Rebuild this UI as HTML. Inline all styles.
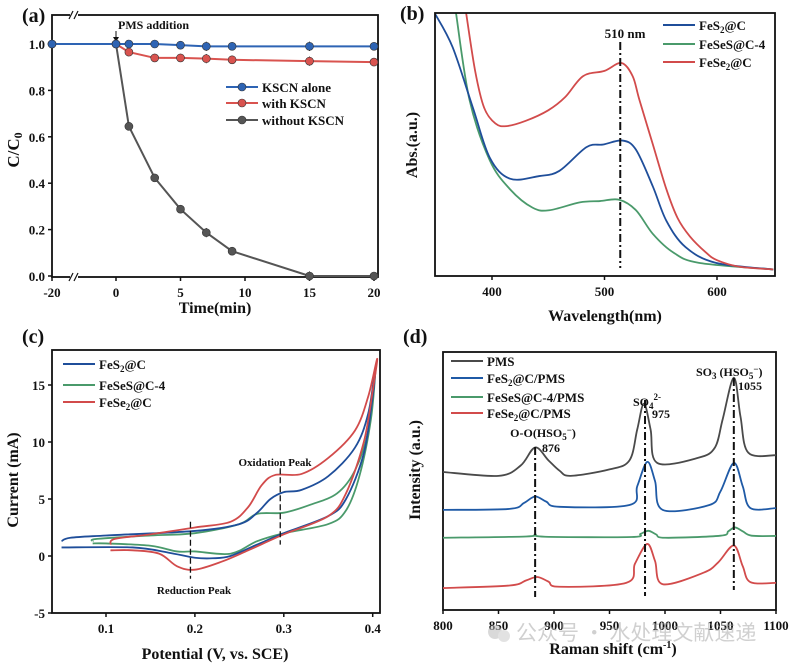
<!DOCTYPE html>
<html><head><meta charset="utf-8"><style>
body{margin:0;background:#fff}
svg text{font-family:"Liberation Serif","Noto Serif CJK SC",serif;font-weight:bold;fill:#111}
</style></head><body>
<svg id="s" width="791" height="665" viewBox="0 0 791 665" xmlns="http://www.w3.org/2000/svg"></svg>
<script>
// ---- Panel (a) data
const aTime=[-20,0,1,3,5,7,9,15,20];
const aKscnAlone=[1,1,1,1,0.995,0.99,0.99,0.99,0.99];
const aWithKscn=[1,1,0.965,0.94,0.94,0.937,0.932,0.926,0.922];
const aWithoutKscn=[1,1,0.645,0.423,0.288,0.187,0.107,0,0];
const aErr=[0,0,0.012,0.015,0.012,0.02,0.018,0.02,0.01];
const aXTicks=[-20,0,5,10,15,20];
const aYTicks=[0,0.2,0.4,0.6,0.8,1.0];
// ---- Panel (b) data
const bFeS2W=[349,365,383,398,416,442,460,484,499,516,528,543,555,572,599,650];
const bFeS2=[1.0,0.87,0.64,0.45,0.37,0.38,0.40,0.49,0.50,0.515,0.48,0.34,0.21,0.11,0.05,0.025];
const bFeSeSW=[368,380,398,416,436,451,478,496,513,528,543,561,584,650];
const bFeSeS=[1.0,0.67,0.44,0.33,0.26,0.25,0.28,0.285,0.29,0.25,0.16,0.09,0.05,0.025];
const bFeSe2W=[377,385,393,403,413,430,450,465,481,500,515,525,531,543,555,565,576,590,600,620,650];
const bFeSe2=[1.0,0.78,0.64,0.58,0.57,0.59,0.63,0.68,0.76,0.78,0.81,0.76,0.67,0.5,0.33,0.22,0.15,0.09,0.06,0.035,0.025];
const bXTicks=[400,500,600];
// ---- Panel (c) data
const cFeS2V=[0.05,0.06,0.1,0.2,0.25,0.27,0.285,0.3,0.32,0.35,0.38,0.395,0.403,0.4,0.39,0.37,0.35,0.3,0.27,0.24,0.22,0.2,0.17,0.13,0.05];
const cFeS2I=[1.3,1.6,1.8,2.2,2.8,3.8,5.0,5.6,5.8,7.0,9.5,12.5,16.5,14,9,5,3.5,2.0,1.0,0.0,-0.2,-0.15,0.3,0.75,0.75];
const cFeSeSV=[0.085,0.09,0.15,0.2,0.25,0.27,0.3,0.33,0.36,0.38,0.395,0.403,0.398,0.385,0.37,0.35,0.3,0.27,0.24,0.2,0.18,0.15,0.1,0.085];
const cFeSeSI=[1.3,1.5,1.8,2.0,2.8,3.7,3.8,4.5,5.5,7.5,11,16.5,12,7,4,2.8,2.0,1.3,0.2,0.4,0.4,0.9,1.1,1.1];
const cFeSe2V=[0.105,0.11,0.15,0.2,0.24,0.26,0.275,0.29,0.32,0.35,0.38,0.395,0.405,0.4,0.39,0.37,0.35,0.3,0.26,0.23,0.2,0.18,0.16,0.13,0.105];
const cFeSe2I=[1.0,1.5,1.9,2.5,3.0,4.3,6.2,7.1,7.2,8.6,11,14,17.3,14.5,10,5.5,3.5,1.9,0.5,-0.5,-1.2,-0.9,0.2,0.5,0.5];
const cXTicks=[0.1,0.2,0.3,0.4];
const cYTicks=[-5,0,5,10,15];
// ---- Panel (d) data
const dPmsX=[800,850,870,883,895,905,915,950,968,975,981,987,993,1030,1045,1052,1062,1068,1075,1100];
const dPms=[53.5,52,56,63,58,54,52,54.5,58,70,80,70,57,59,63,74,90,75,61,60];
const dFeS2X=[800,860,873,883,893,905,968,975,984,991,998,1040,1050,1062,1070,1077,1100];
const dFeS2=[38.8,39.2,41.5,44,42,40,40.7,48,57.4,50,38.8,40.7,46,57,48,39.5,39.5];
const dFeSeSX=[800,875,883,892,970,978,985,992,1000,1050,1057,1063,1070,1078,1100];
const dFeSeS=[28,28.5,29.3,28.4,28.3,29.5,30.7,29.3,28,28.8,30.5,32,30.5,28.8,28.7];
const dFeSe2X=[800,860,875,885,895,905,965,973,984,991,998,1035,1048,1062,1070,1077,1100];
const dFeSe2=[8.5,9.5,11.5,12.8,11,9,10.5,18,25.6,19,10,14.5,18.5,25,17,10.8,10.5];
const dXTicks=[800,850,900,950,1000,1050,1100];

const S=document.getElementById('s');
const NS='http://www.w3.org/2000/svg';
function mk(tag,attrs,parent){const e=document.createElementNS(NS,tag);for(const k in attrs)e.setAttribute(k,attrs[k]);(parent||S).appendChild(e);return e;}
function txt(x,y,str,size,anchor,parent){const t=mk('text',{x:x,y:y,'font-size':size,'text-anchor':anchor||'middle'},parent);t.innerHTML=str;return t;}
function smooth(pts){let d='M'+pts[0][0]+','+pts[0][1];for(let i=0;i<pts.length-1;i++){const p0=pts[i-1]||pts[i],p1=pts[i],p2=pts[i+1],p3=pts[i+2]||p2;const c1x=p1[0]+(p2[0]-p0[0])/6,c1y=p1[1]+(p2[1]-p0[1])/6,c2x=p2[0]-(p3[0]-p1[0])/6,c2y=p2[1]-(p3[1]-p1[1])/6;d+=` C${c1x},${c1y} ${c2x},${c2y} ${p2[0]},${p2[1]}`;}return d;}
function box(x0,y0,x1,y1,name){const r=mk('rect',{x:x0,y:y0,width:x1-x0,height:y1-y0,fill:'none',stroke:'#111','stroke-width':1.8});}
function legend(x,y,color,label,name,marker){const g=mk('g',{});mk('line',{x1:x,y1:y,x2:x+32,y2:y,stroke:color,'stroke-width':2},g);if(marker)mk('circle',{cx:x+16,cy:y,r:4,fill:color,stroke:'#333','stroke-width':0.6},g);txt(x+36,y+5,label,13,'start',g);}

// ================= Panel A =================
const ax=t=>t<0?52+(t+20)/20*64:116+t*12.9;
const ay=v=>276-v*232;
txt(22,22,'(a)',20,'start');
box(52,15,378,277,'panel-a-plot-area');
aXTicks.forEach(t=>{mk('line',{x1:ax(t),y1:277,x2:ax(t),y2:281,stroke:'#111','stroke-width':1.5});txt(ax(t),297,t,13);});
aYTicks.forEach(v=>{mk('line',{x1:48,y1:ay(v),x2:52,y2:ay(v),stroke:'#111','stroke-width':1.5});txt(45,ay(v)+5,v.toFixed(1),13,'end');});
[15,277].forEach(y=>{mk('rect',{x:70,y:y-4,width:8,height:8,fill:'#fff'});mk('line',{x1:69,y1:y+4,x2:73,y2:y-4,stroke:'#111','stroke-width':1.2});mk('line',{x1:74,y1:y+4,x2:78,y2:y-4,stroke:'#111','stroke-width':1.2});});
const yt=txt(0,0,'C/C<tspan font-size="12" dy="3">0</tspan>',17);yt.setAttribute('transform','translate(19,150) rotate(-90)');
txt(215,313,'Time(min)',16);
txt(118,29,'PMS addition',12,'start');
mk('line',{x1:116,y1:31,x2:116,y2:40,stroke:'#111','stroke-width':1});mk('path',{d:'M113,37 L116,42 L119,37 Z',fill:'#111'});
function aSeries(vals,color,name){const g=mk('g',{});
 mk('polyline',{points:aTime.map((t,i)=>ax(t)+','+ay(vals[i])).join(' '),fill:'none',stroke:color,'stroke-width':2},g);
 aTime.forEach((t,i)=>{if(aErr[i]>0){mk('line',{x1:ax(t),y1:ay(vals[i]+aErr[i]),x2:ax(t),y2:ay(vals[i]-aErr[i]),stroke:'#333','stroke-width':1},g);}
 const c=mk('circle',{cx:ax(t),cy:ay(vals[i]),r:4,fill:color,stroke:'#333','stroke-width':0.6},g);});}
aSeries(aWithoutKscn,'#555','series-without-kscn');
aSeries(aWithKscn,'#d9534f','series-with-kscn');
aSeries(aKscnAlone,'#2e64b4','series-kscn-alone');
legend(226,87,'#2e64b4','KSCN alone','legend-kscn-alone',true);
legend(226,103,'#d9534f','with KSCN','legend-with-kscn',true);
legend(226,120,'#555','without KSCN','legend-without-kscn',true);

// ================= Panel B =================
const bx=w=>492+(w-400)*1.125;
const by=v=>276-v*263;
txt(400,20,'(b)',20,'start');
bXTicks.forEach(t=>{mk('line',{x1:bx(t),y1:276,x2:bx(t),y2:280,stroke:'#111','stroke-width':1.5});txt(bx(t),296,t,13);});
const bclip=mk('clipPath',{id:'cb'});mk('rect',{x:435,y:13,width:340,height:263},bclip);
function bSeries(ws,vs,color,name){const p=mk('path',{d:smooth(ws.map((w,i)=>[bx(w),by(vs[i])])),fill:'none',stroke:color,'stroke-width':1.8,'clip-path':'url(#cb)'});}
bSeries(bFeSeSW,bFeSeS,'#4a9a6b','series-fesesc4');
bSeries(bFeS2W,bFeS2,'#1f4e9a','series-fes2c');
bSeries(bFeSe2W,bFeSe2,'#d24b4b','series-fese2c');
box(435,13,775,276,'panel-b-plot-area');
mk('line',{x1:bx(514),y1:42,x2:bx(514),y2:268,stroke:'#111','stroke-width':2,'stroke-dasharray':'8,3,2,3'});
txt(625,38,'510 nm',13);
legend(663,25,'#1f4e9a','FeS<tspan font-size="9" dy="3">2</tspan><tspan dy="-3">@C</tspan>','legend-b-fes2c');
legend(663,44,'#4a9a6b','FeSeS@C-4','legend-b-fesesc4');
legend(663,62,'#d24b4b','FeSe<tspan font-size="9" dy="3">2</tspan><tspan dy="-3">@C</tspan>','legend-b-fese2c');
const byt=txt(0,0,'Abs.(a.u.)',16);byt.setAttribute('transform','translate(417,145) rotate(-90)');
txt(605,321,'Wavelength(nm)',16);

// ================= Panel C =================
const cx=v=>106+(v-0.1)*889;
const cy=i=>556-i*11.4;
txt(22,343,'(c)',20,'start');
box(52,350,380,613,'panel-c-plot-area');
cXTicks.forEach(t=>{mk('line',{x1:cx(t),y1:613,x2:cx(t),y2:617,stroke:'#111','stroke-width':1.5});txt(cx(t),633,t.toFixed(1),13);});
cYTicks.forEach(v=>{mk('line',{x1:48,y1:cy(v),x2:52,y2:cy(v),stroke:'#111','stroke-width':1.5});txt(45,cy(v)+5,v,13,'end');});
function cSeries(vs,is,color,name){const p=mk('path',{d:smooth(vs.map((v,i)=>[cx(v),cy(is[i])])),fill:'none',stroke:color,'stroke-width':1.8});}
cSeries(cFeSeSV,cFeSeSI,'#4a9a6b','series-c-fesesc4');
cSeries(cFeS2V,cFeS2I,'#1f4e9a','series-c-fes2c');
cSeries(cFeSe2V,cFeSe2I,'#d24b4b','series-c-fese2c');
mk('line',{x1:cx(0.195),y1:cy(3),x2:cx(0.195),y2:cy(-2),stroke:'#111','stroke-width':1.3,'stroke-dasharray':'6,3'});
mk('line',{x1:cx(0.296),y1:cy(7.7),x2:cx(0.296),y2:cy(1),stroke:'#111','stroke-width':1.3,'stroke-dasharray':'6,3'});
txt(275,466,'Oxidation Peak',11);
txt(194,594,'Reduction Peak',11);
legend(63,364,'#1f4e9a','FeS<tspan font-size="9" dy="3">2</tspan><tspan dy="-3">@C</tspan>','legend-c-fes2c');
legend(63,385,'#4a9a6b','FeSeS@C-4','legend-c-fesesc4');
legend(63,402,'#d24b4b','FeSe<tspan font-size="9" dy="3">2</tspan><tspan dy="-3">@C</tspan>','legend-c-fese2c');
const cyt=txt(0,0,'Current (mA)',16);cyt.setAttribute('transform','translate(18,480) rotate(-90)');
txt(215,659,'Potential (V, vs. SCE)',16);

// ================= Panel D =================
const dx=w=>443+(w-800)*1.11;
const dy=v=>610-v*2.58;
txt(403,343,'(d)',20,'start');
box(443,352,776,610,'panel-d-plot-area');
dXTicks.forEach(t=>{mk('line',{x1:dx(t),y1:610,x2:dx(t),y2:614,stroke:'#111','stroke-width':1.5});txt(dx(t),630,t,13);});
function dSeries(xs,vs,color,name){const p=mk('path',{d:smooth(xs.map((w,i)=>[dx(w),dy(vs[i])])),fill:'none',stroke:color,'stroke-width':1.8});}
dSeries(dPmsX,dPms,'#4a4a4a','series-pms');
dSeries(dFeS2X,dFeS2,'#1f5aa6','series-fes2c-pms');
dSeries(dFeSeSX,dFeSeS,'#4a9a6b','series-fesesc4-pms');
dSeries(dFeSe2X,dFeSe2,'#d24b4b','series-fese2c-pms');
[[883,447,597],[982,400,596],[1062,378,590]].forEach(a=>mk('line',{x1:dx(a[0]),y1:a[1],x2:dx(a[0]),y2:a[2],stroke:'#111','stroke-width':2,'stroke-dasharray':'8,3,2,3'}));
txt(543,437,'O-O(HSO<tspan font-size="9" dy="3">5</tspan><tspan font-size="9" dy="-7">−</tspan><tspan dy="4">)</tspan>',12);
txt(542,452,'876',12,'start');
txt(633,406,'SO<tspan font-size="9" dy="3">4</tspan><tspan font-size="9" dy="-9">2-</tspan>',12,'start');
txt(652,418,'975',12,'start');
txt(696,376,'SO<tspan font-size="9" dy="3">3</tspan><tspan dy="-3"> (HSO</tspan><tspan font-size="9" dy="3">5</tspan><tspan font-size="9" dy="-7">−</tspan><tspan dy="4">)</tspan>',12,'start');
txt(738,390,'1055',12,'start');
legend(451,361,'#4a4a4a','PMS','legend-pms');
legend(451,378,'#1f5aa6','FeS<tspan font-size="9" dy="3">2</tspan><tspan dy="-3">@C/PMS</tspan>','legend-fes2c-pms');
legend(451,397,'#4a9a6b','FeSeS@C-4/PMS','legend-fesesc4-pms');
legend(451,413,'#d24b4b','FeSe<tspan font-size="9" dy="3">2</tspan><tspan dy="-3">@C/PMS</tspan>','legend-fese2c-pms');
const dyt=txt(0,0,'Intensity (a.u.)',16);dyt.setAttribute('transform','translate(420,470) rotate(-90)');
txt(613,654,'Raman shift (cm<tspan font-size="10" dy="-6">-1</tspan><tspan dy="6">)</tspan>',16);
// watermark
const wm=mk('g',{opacity:0.55});
mk('circle',{cx:495,cy:632,r:7,fill:'#bbb'},wm);mk('circle',{cx:504,cy:636,r:6,fill:'#ccc'},wm);
const wt=txt(516,640,'公众号 · 水处理文献速递',21,'start',wm);wt.setAttribute('style','font-family:"Noto Sans CJK SC",sans-serif;font-weight:normal;fill:#aaa');
</script>
</body></html>
